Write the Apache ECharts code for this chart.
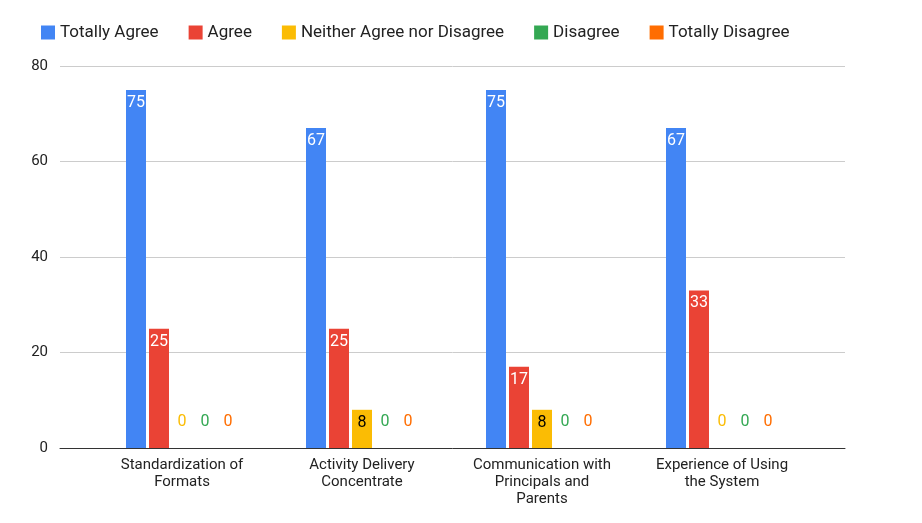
<!DOCTYPE html>
<html lang="en">
  <head>
    <meta charset="UTF-8" />
    <title>Survey chart</title>
    <script src="https://cdn.jsdelivr.net/npm/echarts@6/dist/echarts.min.js"></script>
    <style>
      body { margin: 0; background: #fff; }
      #chart { width: 922px; height: 523px; }
    </style>
  </head>
  <body>
    <div id="chart"></div>
  </body>
</html>
<script>
  const categories = [
    "Standardization of\nFormats",
    "Activity Delivery\nConcentrate",
    "Communication with\nPrincipals and\nParents",
    "Experience of Using\nthe System",
  ];
  const seriesNames = ["Totally Agree", "Agree", "Neither Agree nor Disagree", "Disagree", "Totally Disagree"];
  const totallyAgree = [75, 67, 75, 67];
  const agree = [25, 25, 17, 33];
  const neither = [0, 8, 8, 0];
  const disagree = [0, 0, 0, 0];
  const totallyDisagree = [0, 0, 0, 0];
  const colors = ["#4285F4", "#EA4335", "#FBBC04", "#34A853", "#FF6D01"];
  const labelColors = ["#fff", "#fff", "#000", "#fff", "#fff"];

  const allValues = [totallyAgree, agree, neither, disagree, totallyDisagree];

  const series = allValues.map((vals, i) => ({
    name: seriesNames[i],
    type: "bar",
    xAxisIndex: 1,
    yAxisIndex: 1,
    barWidth: 20,
    barGap: "15%",
    itemStyle: { color: colors[i] },
    data: vals.map((v) =>
      v === 0
        ? { value: v, label: { position: "top", distance: 18, color: colors[i] } }
        : { value: v }
    ),
    label: {
      show: true,
      position: "insideTop",
      distance: 5,
      color: labelColors[i],
      fontSize: 16,
      fontFamily: "Roboto",
    },
  }));

  const chart = echarts.init(document.getElementById("chart"));
  chart.setOption({
    animation: false,
    color: colors,
    textStyle: { fontFamily: "Roboto" },
    legend: {
      top: 19,
      left: 36,
      itemWidth: 14,
      itemHeight: 14,
      itemGap: 30,
      icon: "rect",
      textStyle: { fontSize: 17, color: "#222" },
    },
    grid: [
      { left: 60, right: 77, top: 66, bottom: 75 },
      { left: 92, right: 110, top: 66, bottom: 75 },
    ],
    xAxis: [
      {
        type: "category",
        gridIndex: 0,
        data: [""],
        axisTick: { show: false },
        axisLabel: { show: false },
        axisLine: { lineStyle: { color: "#333" } },
      },
      {
        type: "category",
        gridIndex: 1,
        data: categories,
        axisTick: { show: false },
        axisLine: { show: false },
        axisLabel: { fontSize: 15, color: "#222", lineHeight: 17, margin: 9 },
      },
    ],
    yAxis: [
      {
        type: "value",
        gridIndex: 0,
        min: 0,
        max: 80,
        interval: 20,
        axisLabel: { fontSize: 15, color: "#222", margin: 12 },
        splitLine: { lineStyle: { color: "#ccc" } },
      },
      {
        type: "value",
        gridIndex: 1,
        min: 0,
        max: 80,
        interval: 20,
        axisLabel: { show: false },
        splitLine: { show: false },
      },
    ],
    series: series,
  });
</script>
